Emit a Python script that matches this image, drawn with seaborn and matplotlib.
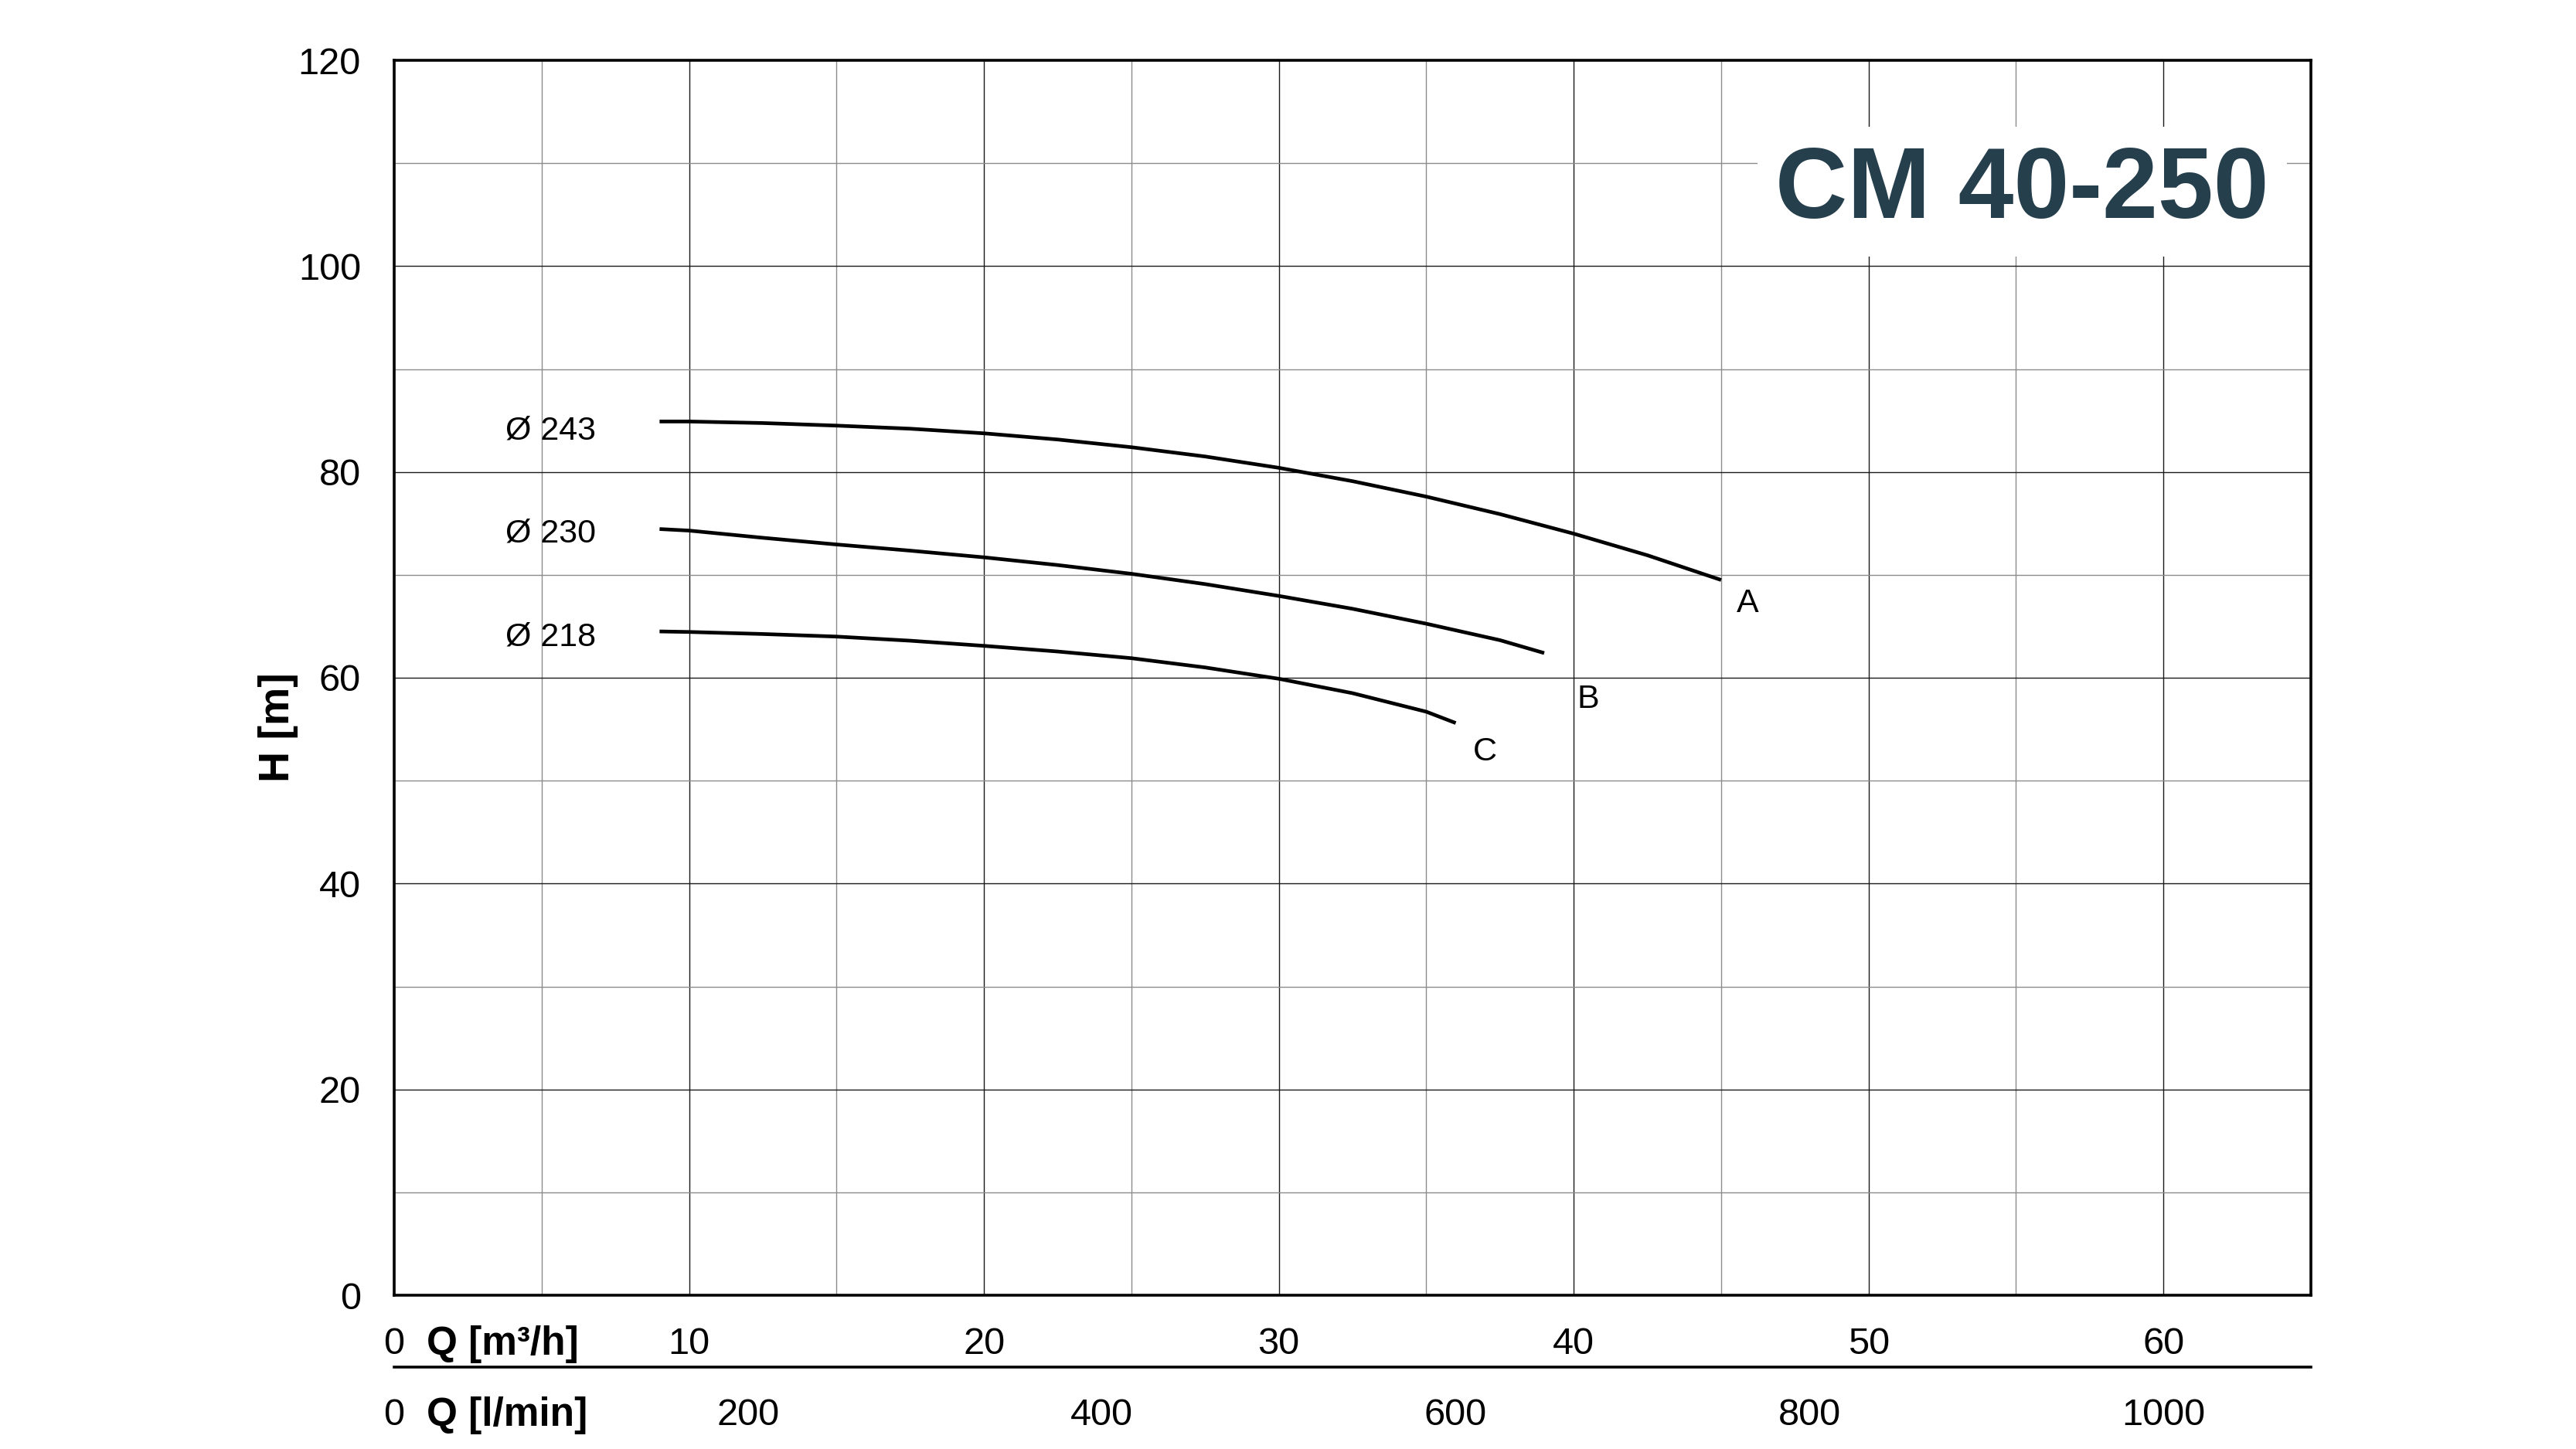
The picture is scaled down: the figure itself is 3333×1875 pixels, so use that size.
import numpy as np
import pandas as pd
import matplotlib
matplotlib.use("Agg")
import matplotlib.pyplot as plt
import seaborn as sns
from matplotlib.ticker import MultipleLocator

# ---- data ----
q_a = [9.0, 10, 12.5, 15, 17.5, 20, 22.5, 25, 27.5, 30, 32.5, 35, 37.5, 40, 42.5, 45.0]
h_a = [84.9, 84.9, 84.75, 84.5, 84.2, 83.75, 83.15, 82.4, 81.5, 80.4, 79.1, 77.6, 75.9, 74.0, 71.9, 69.5]

q_b = [9.0, 10, 12.5, 15, 17.5, 20, 22.5, 25, 27.5, 30, 32.5, 35, 37.5, 39.0]
h_b = [74.45, 74.3, 73.6, 72.95, 72.35, 71.7, 70.95, 70.1, 69.1, 67.95, 66.7, 65.25, 63.65, 62.4]

q_c = [9.0, 10, 12.5, 15, 17.5, 20, 22.5, 25, 27.5, 30, 32.5, 35, 36.0]
h_c = [64.5, 64.45, 64.25, 64.0, 63.6, 63.1, 62.55, 61.9, 61.0, 59.9, 58.5, 56.7, 55.6]

curve_ids = ["A", "B", "C"]
diameter_labels = ["Ø 243", "Ø 230", "Ø 218"]
title_text = "CM 40-250"

q_ticks = [0, 10, 20, 30, 40, 50, 60]
lmin_ticks = [0, 200, 400, 600, 800, 1000]
h_ticks = [0, 20, 40, 60, 80, 100, 120]

# ---- long-form table ----
frames = []
for cid, q, h in zip(curve_ids, [q_a, q_b, q_c], [h_a, h_b, h_c]):
    frames.append(pd.DataFrame({"Q": q, "H": h, "curve": cid}))
df = pd.concat(frames, ignore_index=True)

sns.set_theme(style="white")
plt.rcParams["font.family"] = ["Liberation Sans", "DejaVu Sans"]

W, H = 3333, 1875
fig = plt.figure(figsize=(W / 100, H / 100), dpi=100)
fig.patch.set_facecolor("white")

left, right, bottom, top = 510 / W, 2990 / W, 1 - 1676 / H, 1 - 78 / H
ax = fig.add_axes([left, bottom, right - left, top - bottom])
ax.set_facecolor("white")

sns.lineplot(data=df, x="Q", y="H", hue="curve", units="curve", estimator=None,
             palette=["black"] * 3, linewidth=3.4, legend=False, sort=True, ax=ax,
             zorder=4, solid_joinstyle="round", solid_capstyle="butt")

ax.set_xlim(0, 65)
ax.set_ylim(0, 120)
ax.xaxis.set_major_locator(MultipleLocator(10))
ax.xaxis.set_minor_locator(MultipleLocator(5))
ax.yaxis.set_major_locator(MultipleLocator(20))
ax.yaxis.set_minor_locator(MultipleLocator(10))
ax.set_xticks(q_ticks)
ax.set_xticklabels([str(t) for t in q_ticks])
ax.set_yticks(h_ticks)
ax.set_yticklabels([str(t) for t in h_ticks])
ax.set_xlabel("")
ax.set_ylabel("")

ax.set_axisbelow(True)
ax.grid(which="major", color="#1a1a1a", linewidth=1.0)
ax.grid(which="minor", color="#8c8c8c", linewidth=1.0)

for s in ax.spines.values():
    s.set_visible(True)
    s.set_color("black")
    s.set_linewidth(2.6)

ax.tick_params(axis="x", which="major", direction="out", length=10, width=0.8,
               color="#333333", labelsize=35, pad=19.5, labelcolor="black")
ax.tick_params(axis="x", which="minor", length=0)
ax.tick_params(axis="y", which="major", direction="out", length=10, width=0.8,
               color="#333333", labelsize=35, pad=21, labelcolor="black")
ax.tick_params(axis="y", which="minor", direction="out", length=8, width=0.8,
               color="#333333")

# diameter labels and curve end letters
diam_pos = [(5.3, 83.15), (5.3, 73.15), (5.3, 63.15)]
for txt, (x, y) in zip(diameter_labels, diam_pos):
    ax.text(x, y, txt, ha="center", va="baseline", fontsize=31, color="black", zorder=5)
end_pos = [(45.9, 66.4), (40.5, 57.1), (37.0, 52.0)]
for txt, (x, y) in zip(curve_ids, end_pos):
    ax.text(x, y, txt, ha="center", va="baseline", fontsize=31, color="black", zorder=5)

# title box
ax.text(55.2, 104.7, title_text, ha="center", va="baseline", fontsize=93,
        fontweight="bold", color="#263f4d", zorder=6,
        bbox=dict(facecolor="white", edgecolor="none", boxstyle="square,pad=0.18"))

# second x axis (l/min)
ax2 = fig.add_axes([left, 1 - 1769 / H, right - left, 0.0])
ax2.patch.set_visible(False)
for k in ["left", "right", "top"]:
    ax2.spines[k].set_visible(False)
ax2.spines["bottom"].set_color("black")
ax2.spines["bottom"].set_linewidth(2.6)
ax2.set_xlim(0, 65 * 1000 / 60)
ax2.set_yticks([])
ax2.set_xticks(lmin_ticks)
ax2.set_xticklabels([str(t) for t in lmin_ticks])
ax2.tick_params(axis="x", which="major", direction="out", length=11, width=2.4,
                color="black", labelsize=35, pad=17.5, labelcolor="black")
ax2.grid(False)

# axis labels
fig.text(360 / W, 1 - 941 / H, "H [m]", rotation=90, ha="center", va="center",
         fontsize=40, fontweight="bold", color="black")
fig.text(552 / W, 1 - 1740 / H, "Q [m³/h]", ha="left", va="center",
         fontsize=37, fontweight="bold", color="black")
fig.text(552 / W, 1 - 1831 / H, "Q [l/min]", ha="left", va="center",
         fontsize=37, fontweight="bold", color="black")

fig.savefig("out.png", dpi=100, facecolor="white")
